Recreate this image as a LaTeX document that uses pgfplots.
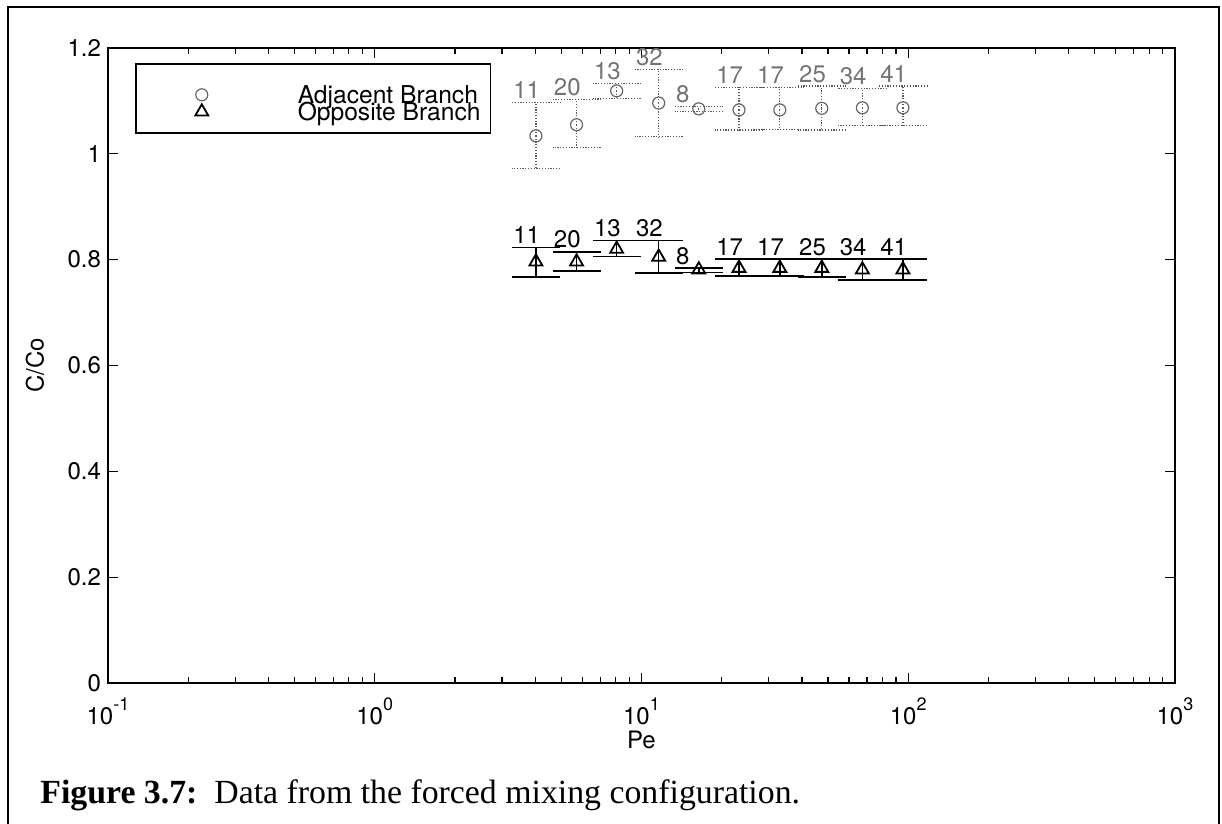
\documentclass[border=0pt]{standalone}
\usepackage{pgfplots}
\pgfplotsset{compat=1.18}
\usepackage{pgfplotstable}
\usepackage{fontspec}
\setmainfont{TeX Gyre Heros}
\newfontfamily\capfont{Liberation Serif}

% Pe, C/Co, top and bottom of the error bar, label
\pgfplotstableread{
x     y      top    bot    n
4.02  1.034  1.097  0.973  11
5.71  1.055  1.102  1.012  20
8.07  1.119  1.133  1.104  13
11.6  1.096  1.160  1.032  32
16.4  1.085  1.090  1.080  8
23.2  1.083  1.126  1.045  17
33.0  1.083  1.126  1.046  17
47.4  1.086  1.128  1.045  25
67.3  1.087  1.123  1.053  34
95.5  1.087  1.128  1.053  41
}\adj
\pgfplotstableread{
x     y      top    bot    n
4.02  0.796  0.823  0.767  11
5.71  0.796  0.815  0.779  20
8.07  0.820  0.836  0.806  13
11.6  0.805  0.836  0.775  32
16.4  0.781  0.784  0.776  8
23.2  0.784  0.801  0.769  17
33.0  0.784  0.801  0.769  17
47.4  0.784  0.801  0.767  25
67.3  0.781  0.801  0.762  34
95.5  0.781  0.801  0.762  41
}\opp

\newcommand\tenexp[1]{10\raisebox{7pt}{\fontsize{9}{9}\selectfont#1}}
\newcommand\fs{\fontsize{12}{12}\selectfont}

\pgfplotsset{
  legmark/.style={legend image code/.code={
    \path[draw=none,fill=none] (0pt,0pt) (56pt,0pt);
    \draw[##1,only marks] plot coordinates {(28pt,4.5pt)};}},
  lab/.style={draw=none, mark=none, forget plot, point meta=explicit symbolic,
    nodes near coords, nodes near coords align={anchor=base west},
    nodes near coords style={anchor=base west, xshift=-11.5pt, yshift=2pt,
      inner sep=0pt, font=\fs, text=#1}},
}

\begin{document}
\begin{tikzpicture}
\begin{axis}[name=ax, scale only axis, width=533.5pt, height=317.5pt,
  xmode=log, xmin=0.1, xmax=1000, ymin=0, ymax=1.2,
  xtick={0.1,1,10,100,1000},
  xticklabels={\tenexp{-1},\tenexp{0},\tenexp{1},\tenexp{2},\tenexp{3}},
  ytick={0,0.2,0.4,0.6,0.8,1,1.2},
  tick align=inside, major tick length=5pt, minor tick length=3pt,
  every tick/.style={black, line width=0.6pt},
  axis line style={line width=0.9pt},
  tick label style={font=\fs},
  /pgf/number format/assume math mode=true,
  xticklabel style={anchor=base, yshift=-21pt},
  xlabel={Pe}, ylabel={C/Co},
  every axis x label/.style={at={(rel axis cs:0.5,0)}, anchor=base, yshift=-33pt, font=\fs},
  every axis y label/.style={at={(rel axis cs:0,0.5)}, xshift=-36.5pt, rotate=90, anchor=center, font=\fs},
  clip=false,
  legend style={at={(rel axis cs:0,1)}, anchor=north west, xshift=13.5pt, yshift=-7.5pt,
    draw=black, line width=0.8pt, fill=white, inner xsep=5pt, inner ysep=4.5pt,
    row sep=-8.5pt, column sep=20pt, font=\fontsize{12.3}{12.3}\selectfont,
    nodes={inner sep=0pt, text height=15.5pt, text depth=1.5pt},
    cells={anchor=base west}},
]
\addplot[only marks, mark=o, mark size=3pt, black!60, mark options={line width=0.6pt}, legmark,
  error bars/.cd, y dir=both, y explicit,
  error bar style={black!65, line width=0.6pt, dash pattern=on 0.6pt off 0.8pt},
  error mark options={rotate=90, mark size=12pt, black!65, line width=0.6pt, dash pattern=on 0.6pt off 0.8pt}]
  table[x=x, y=y, y error plus expr=\thisrow{top}-\thisrow{y},
    y error minus expr=\thisrow{y}-\thisrow{bot}] {\adj};
\addlegendentry{Adjacent Branch}
\addplot[only marks, mark=triangle, mark size=3.75pt, black, mark options={line width=0.9pt}, legmark,
  error bars/.cd, y dir=both, y explicit,
  error bar style={black, line width=0.8pt},
  error mark options={rotate=90, mark size=12pt, black, line width=0.8pt}]
  table[x=x, y=y, y error plus expr=\thisrow{top}-\thisrow{y},
    y error minus expr=\thisrow{y}-\thisrow{bot}] {\opp};
\addlegendentry{Opposite Branch}
\addplot[lab=black!55] table[x=x, y=top, meta=n] {\adj};
\addplot[lab=black] table[x=x, y=top, meta=n] {\opp};
\end{axis}
\pgfresetboundingbox
\path[use as bounding box] ([xshift=-54pt,yshift=-70.5pt]ax.south west)
  rectangle ([xshift=557pt,yshift=341.5pt]ax.south west);
\draw[line width=1pt] ([xshift=-50pt,yshift=-80pt]ax.south west)
  -- ([xshift=-50pt,yshift=338pt]ax.south west)
  -- ([xshift=555.5pt,yshift=338pt]ax.south west)
  -- ([xshift=555.5pt,yshift=-80pt]ax.south west);
\node[anchor=base west, inner sep=0pt, font=\capfont\fontsize{16.9}{16.9}\selectfont]
  at ([xshift=-34pt,yshift=-60.5pt]ax.south west)
  {\textbf{Figure 3.7:}\ \ Data from the forced mixing configuration.};
\end{tikzpicture}
\end{document}
